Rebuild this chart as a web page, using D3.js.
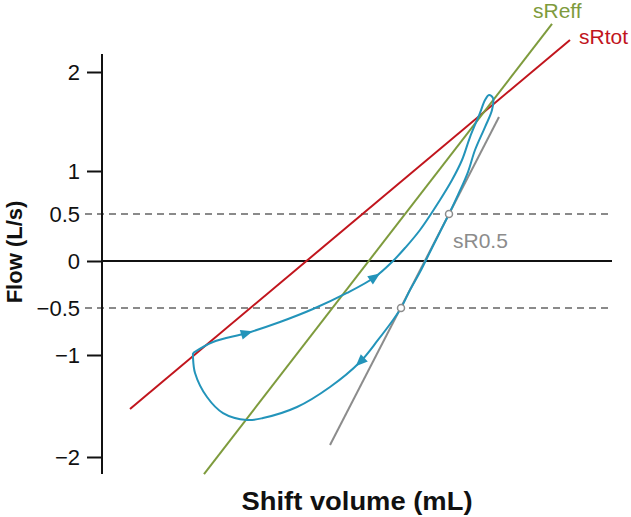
<!DOCTYPE html>
<html>
<head>
<meta charset="utf-8">
<script src="https://cdn.jsdelivr.net/npm/d3@7"></script>
<style>
  body { margin: 0; background: #fff; }
  svg { display: block; }
  text { font-family: "Liberation Sans", Arial, sans-serif; }
</style>
</head>
<body>
<div id="chart"></div>
<script>
// flow vs shift volume loop (specific airway resistance)
// x has no tick labels, so volume is in arbitrary units 0..100

var yTicks      = [2, 1, 0, -1, -2];
var yDashed     = [0.5, -0.5];
var yTickLabels = ["2", "1", "0", "\u22121", "\u22122"];
var yDashLabels = ["0.5", "\u22120.5"];

// the breathing loop, clockwise from the lower-left corner
var loopVol  = [17.84, 21.76, 28.43, 34.90, 41.37, 48.04, 53.53, 56.86, 59.41, 62.35,
                66.27, 68.63, 70.59, 72.16, 74.12, 75.10, 75.88, 76.67, 76.47, 75.10,
                73.14, 71.76, 69.80, 68.04, 66.27, 64.31, 62.35, 60.39, 58.63, 57.06,
                54.12, 50.59, 44.71, 38.24, 31.57, 28.43, 23.73, 20.59, 18.24, 17.84, 17.84];
var loopFlow = [-0.98, -0.862, -0.766, -0.649, -0.511, -0.340, -0.170, -0.011, 0.138, 0.330,
                0.663, 0.895, 1.111, 1.343, 1.586, 1.717, 1.768, 1.737, 1.616, 1.444,
                1.212, 0.988, 0.721, 0.5, 0.309, 0.096, -0.117, -0.309, -0.5, -0.628,
                -0.840, -1.069, -1.314, -1.510, -1.618, -1.637, -1.569, -1.412, -1.176, -1.020, -0.98];
var arrowIdx = [2, 6, 31];

// resistance lines: [start, end] as [volume, flow]
var lineNames  = ["sRtot", "sReff", "sR0.5"];
var lineColors = ["#c1151d", "#7e9b3d", "#8c8c8c"];
var lineVol    = [[5.49, 91.76], [20.0, 88.24], [44.71, 77.84]];
var lineFlow   = [[-1.529, 2.323], [-2.167, 2.485], [-1.882, 1.545]];

// where sR0.5 meets the +/-0.5 flow lines
var markVol  = [68.04, 58.63];
var markFlow = [0.5, -0.5];

var w = 631, h = 517;
var axisX = 102, plotRight = 612;

var svg = d3.select("#chart").append("svg")
    .attr("width", w)
    .attr("height", h);

var xScale = d3.scaleLinear().domain([0, 100]).range([axisX, plotRight]);

// the printed axis is not quite even, so map each tick
var yScale = d3.scaleLinear()
    .domain([-2, -1, -0.5, 0, 0.5, 1, 2])
    .range([457, 355, 308, 261, 214, 171, 72]);

// dashed reference lines at +/-0.5
svg.selectAll(".dash")
    .data(yDashed)
    .enter().append("line")
    .attr("x1", 85)
    .attr("x2", plotRight)
    .attr("y1", d => yScale(d))
    .attr("y2", d => yScale(d))
    .attr("stroke", "#8a8a8a")
    .attr("stroke-width", 2)
    .attr("stroke-dasharray", "7,5");

svg.selectAll(".dashLabel")
    .data(yDashed)
    .enter().append("text")
    .attr("x", 80)
    .attr("y", d => yScale(d))
    .attr("dy", "0.36em")
    .attr("text-anchor", "end")
    .attr("fill", "#111")
    .style("font-size", "22px")
    .text((d, i) => yDashLabels[i]);

// zero flow line
svg.append("line")
    .attr("x1", axisX)
    .attr("x2", plotRight)
    .attr("y1", yScale(0))
    .attr("y2", yScale(0))
    .attr("stroke", "#111")
    .attr("stroke-width", 2);

// y axis
var yAxis = d3.axisLeft(yScale)
    .tickValues(yTicks)
    .tickSize(15)
    .tickSizeOuter(0)
    .tickPadding(7)
    .tickFormat((d, i) => yTickLabels[i]);

var gy = svg.append("g")
    .attr("transform", "translate(" + axisX + ",0)")
    .call(yAxis);

gy.select(".domain").remove();
gy.selectAll(".tick line").attr("stroke", "#111").attr("stroke-width", 2);
gy.selectAll(".tick text")
    .style("font-size", "22px")
    .style("font-family", "'Liberation Sans', Arial, sans-serif")
    .attr("fill", "#111");

svg.append("line")
    .attr("x1", axisX).attr("x2", axisX)
    .attr("y1", 54).attr("y2", 474)
    .attr("stroke", "#111")
    .attr("stroke-width", 2);

// resistance lines
lineNames.forEach(function(name, i) {
    svg.append("line")
        .attr("x1", xScale(lineVol[i][0]))
        .attr("y1", yScale(lineFlow[i][0]))
        .attr("x2", xScale(lineVol[i][1]))
        .attr("y2", yScale(lineFlow[i][1]))
        .attr("stroke", lineColors[i])
        .attr("stroke-width", 2);
});

// loop
var loopPts = loopVol.map((v, i) => [xScale(v), yScale(loopFlow[i])]);

var line = d3.line().curve(d3.curveCatmullRom.alpha(0.5));

svg.append("path")
    .attr("d", line(loopPts))
    .attr("fill", "none")
    .attr("stroke", "#2394ba")
    .attr("stroke-width", 2);

// direction arrows
arrowIdx.forEach(function(k) {
    var p0 = loopPts[k - 1], p1 = loopPts[k + 1], p = loopPts[k];
    var ang = Math.atan2(p1[1] - p0[1], p1[0] - p0[0]) * 180 / Math.PI;
    svg.append("path")
        .attr("d", "M6,0 L-6,-5 L-6,5 Z")
        .attr("transform", "translate(" + p[0] + "," + p[1] + ") rotate(" + ang + ")")
        .attr("fill", "#2394ba");
});

// markers on sR0.5
svg.selectAll(".mark")
    .data(markVol)
    .enter().append("circle")
    .attr("cx", d => xScale(d))
    .attr("cy", (d, i) => yScale(markFlow[i]))
    .attr("r", 3.5)
    .attr("fill", "#fff")
    .attr("stroke", "#8c8c8c")
    .attr("stroke-width", 1.5);

// line labels
var labelPos = [[579, 44], [533, 18], [453, 248]];
lineNames.forEach(function(name, i) {
    svg.append("text")
        .attr("x", labelPos[i][0])
        .attr("y", labelPos[i][1])
        .attr("fill", lineColors[i])
        .style("font-size", "21px")
        .text(name);
});

// axis titles
svg.append("text")
    .attr("transform", "translate(22,252) rotate(-90)")
    .attr("text-anchor", "middle")
    .style("font-size", "22px")
    .style("font-weight", "bold")
    .attr("fill", "#111")
    .text("Flow (L/s)");

svg.append("text")
    .attr("x", 357)
    .attr("y", 510)
    .attr("text-anchor", "middle")
    .attr("textLength", 231)
    .attr("lengthAdjust", "spacingAndGlyphs")
    .style("font-size", "25px")
    .style("font-weight", "bold")
    .attr("fill", "#111")
    .text("Shift volume (mL)");
</script>
</body>
</html>
